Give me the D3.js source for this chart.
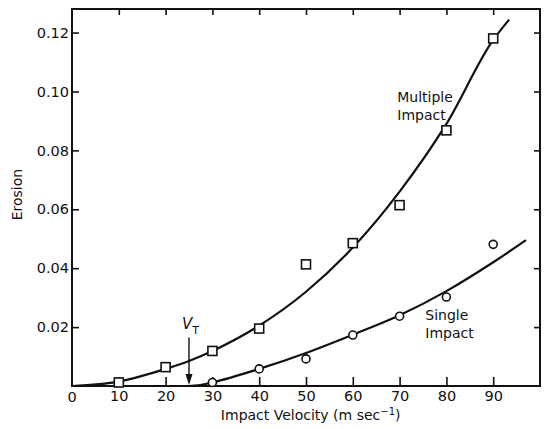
<!DOCTYPE html>
<html>
<head>
<meta charset="utf-8">
<script src="https://cdn.jsdelivr.net/npm/d3@7"></script>
<style>
  body { margin: 0; background: #fff; }
  svg { display: block; }
  text { font-family: "DejaVu Sans", sans-serif; fill: #111; }
</style>
</head>
<body>
<div id="chart"></div>
<script>
// measured points
const velocities = [10, 20, 30, 40, 50, 60, 70, 80, 90];
const multipleValues = [0.0012, 0.0064, 0.0119, 0.0195, 0.0413, 0.0485, 0.0614, 0.0868, 0.118];
const singleVelocities = [30, 40, 50, 60, 70, 80, 90];
const singleValues = [0.0012, 0.0058, 0.0092, 0.0173, 0.0237, 0.0302, 0.0481];

// fitted curves
const multipleCurveV = [0, 10, 20, 25, 30, 40, 50, 60, 70, 80, 90, 93.4];
const multipleCurveE = [0, 0.0015, 0.0058, 0.0085, 0.0119, 0.0205, 0.032, 0.047, 0.066, 0.089, 0.1175, 0.1244];
const singleCurveV = [25, 27, 30, 40, 50, 60, 70, 80, 90, 97];
const singleCurveE = [0, 0.0002, 0.0012, 0.0058, 0.0112, 0.0174, 0.024, 0.0322, 0.042, 0.0495];

const threshold = 25;
const xTicks = [10, 20, 30, 40, 50, 60, 70, 80, 90];
const yTicks = [0.02, 0.04, 0.06, 0.08, 0.10, 0.12];

const W = 544, H = 429;
const margin = { top: 9, right: 4, bottom: 43, left: 72 };
const width = W - margin.left - margin.right;
const height = H - margin.top - margin.bottom;

const svg = d3.select('#chart').append('svg')
  .attr('width', W)
  .attr('height', H);

const g = svg.append('g')
  .attr('transform', 'translate(' + margin.left + ',' + margin.top + ')');

const x = d3.scaleLinear().domain([0, 100]).range([0, width]);
const y = d3.scaleLinear().domain([0, 0.128]).range([height, 0]);

// frame
g.append('rect')
  .attr('width', width)
  .attr('height', height)
  .attr('fill', 'none')
  .attr('stroke', '#111')
  .attr('stroke-width', 2);

// ticks: all pointing inside
const fmt = d => d.toFixed(2);
const axisStyle = sel => {
  sel.select('.domain').remove();
  sel.selectAll('line').attr('stroke', '#111').attr('stroke-width', 1.6);
  sel.selectAll('text').style('font-size', '14.5px');
};

g.append('g')
  .attr('transform', 'translate(0,' + height + ')')
  .call(d3.axisBottom(x).tickValues(xTicks).tickSizeInner(-9).tickPadding(5).tickFormat(d3.format('d')))
  .call(axisStyle);

g.append('g')
  .call(d3.axisTop(x).tickValues(xTicks).tickSizeInner(-6).tickFormat(''))
  .call(axisStyle);

g.append('g')
  .call(d3.axisLeft(y).tickValues(yTicks).tickSizeInner(-7).tickPadding(3).tickFormat(fmt))
  .call(axisStyle);

g.append('g')
  .attr('transform', 'translate(' + width + ',0)')
  .call(d3.axisRight(y).tickValues(yTicks).tickSizeInner(-6).tickFormat(''))
  .call(axisStyle);

// origin label
g.append('text')
  .attr('x', x(0))
  .attr('y', height + 16)
  .attr('text-anchor', 'middle')
  .style('font-size', '14.5px')
  .text('0');

// axis titles
const xTitle = g.append('text')
  .attr('x', x(51))
  .attr('y', height + 34)
  .attr('text-anchor', 'middle')
  .style('font-size', '14px');
xTitle.append('tspan').text('Impact Velocity (m sec');
xTitle.append('tspan').attr('dy', -5).style('font-size', '10px').text('−1');
xTitle.append('tspan').attr('dy', 5).text(')');

svg.append('text')
  .attr('transform', 'translate(22,' + (margin.top + y(0.065)) + ') rotate(-90)')
  .attr('text-anchor', 'middle')
  .style('font-size', '14px')
  .text('Erosion');

// curves
const line = d3.line()
  .x(d => x(d[0]))
  .y(d => y(d[1]))
  .curve(d3.curveMonotoneX);

g.append('path')
  .datum(d3.zip(multipleCurveV, multipleCurveE))
  .attr('d', line)
  .attr('fill', 'none')
  .attr('stroke', '#111')
  .attr('stroke-width', 2.2);

g.append('path')
  .datum(d3.zip(singleCurveV, singleCurveE))
  .attr('d', line)
  .attr('fill', 'none')
  .attr('stroke', '#111')
  .attr('stroke-width', 2.2);

// markers
g.selectAll('rect.mult')
  .data(d3.zip(velocities, multipleValues))
  .enter()
  .append('rect')
  .attr('class', 'mult')
  .attr('x', d => x(d[0]) - 4.5)
  .attr('y', d => y(d[1]) - 4.5)
  .attr('width', 9)
  .attr('height', 9)
  .attr('fill', '#fff')
  .attr('stroke', '#111')
  .attr('stroke-width', 1.6);

g.selectAll('circle.single')
  .data(d3.zip(singleVelocities, singleValues))
  .enter()
  .append('circle')
  .attr('class', 'single')
  .attr('cx', d => x(d[0]))
  .attr('cy', d => y(d[1]))
  .attr('r', 4)
  .attr('fill', '#fff')
  .attr('stroke', '#111')
  .attr('stroke-width', 1.6);

// threshold arrow
const vx = x(threshold);
g.append('line')
  .attr('x1', vx).attr('x2', vx)
  .attr('y1', y(0.0165)).attr('y2', height - 10)
  .attr('stroke', '#111')
  .attr('stroke-width', 1.4);
g.append('path')
  .attr('d', 'M' + (vx - 3.5) + ',' + (height - 12) + 'L' + (vx + 3.5) + ',' + (height - 12) + 'L' + vx + ',' + (height - 1) + 'Z')
  .attr('fill', '#111');

const vt = g.append('text')
  .attr('x', vx - 7)
  .attr('y', y(0.0195))
  .style('font-size', '15px');
vt.append('tspan').style('font-style', 'italic').text('V');
vt.append('tspan').attr('dy', 5).style('font-size', '11px').text('T');

// series labels
const label = (v, e, lines) => {
  const t = g.append('text')
    .attr('x', x(v))
    .attr('y', y(e))
    .style('font-size', '14px');
  lines.forEach((s, i) => t.append('tspan').attr('x', x(v)).attr('dy', i ? 18 : 0).text(s));
};
label(69.5, 0.0965, ['Multiple', 'Impact']);
label(75.5, 0.0225, ['Single', 'Impact']);
</script>
</body>
</html>
